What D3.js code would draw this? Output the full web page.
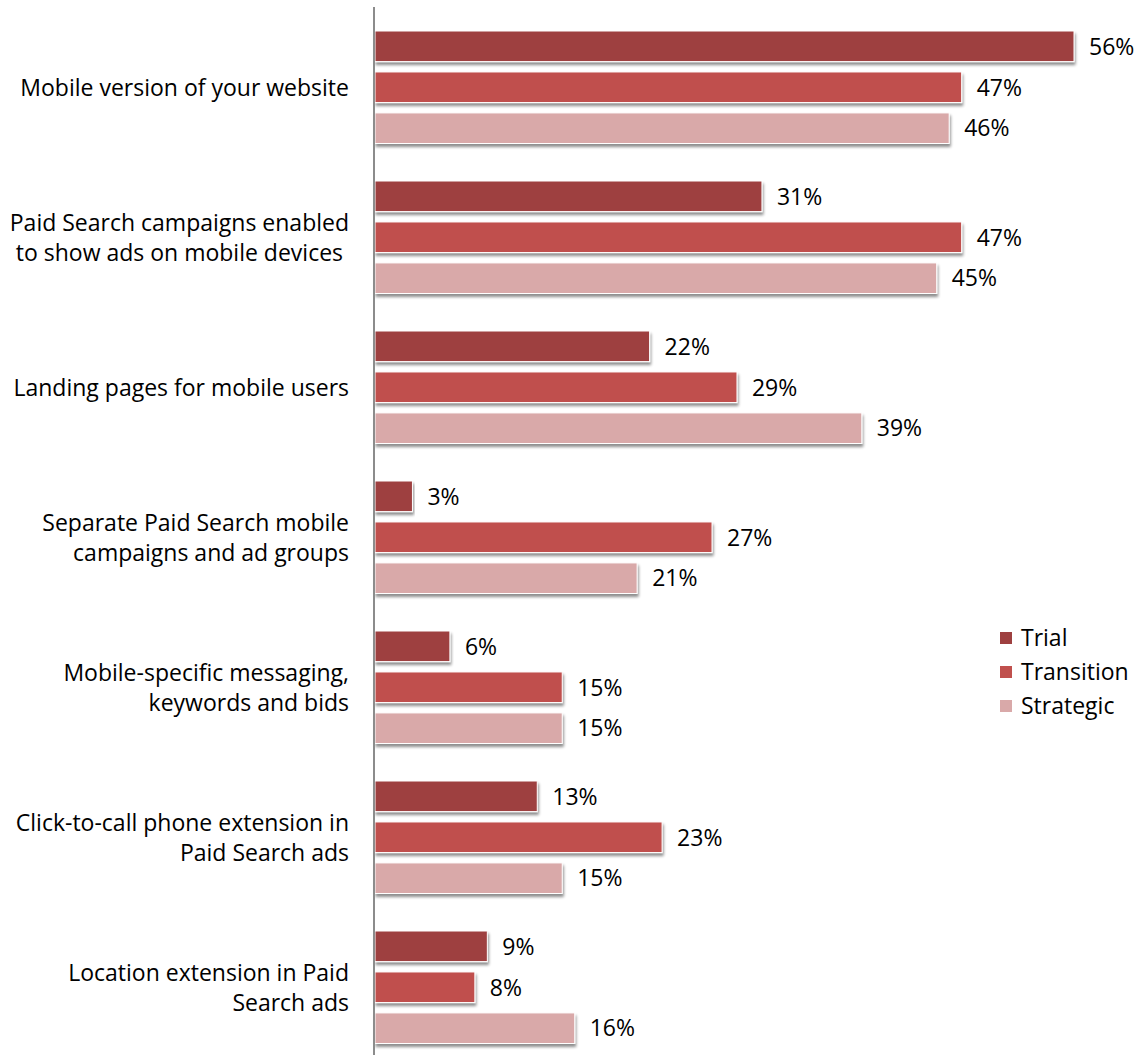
<!DOCTYPE html>
<html><head><meta charset="utf-8">
<script src="https://cdn.jsdelivr.net/npm/d3@7"></script>
<style>body{margin:0;background:#fff}svg{display:block}text{white-space:pre}</style>
</head><body>
<svg id="c" width="1138" height="1055"></svg>
<script>
const categories = [
  ["Mobile version of your website"],
  ["Paid Search campaigns enabled", "to show ads on mobile devices "],
  ["Landing pages for mobile users"],
  ["Separate Paid Search mobile", "campaigns and ad groups"],
  ["Mobile-specific messaging,", "keywords and bids"],
  ["Click-to-call phone extension in", "Paid Search ads"],
  ["Location extension in Paid", "Search ads"]
];
const series = ["Trial", "Transition", "Strategic"];
const trial = [56, 31, 22, 3, 6, 13, 9];
const transition = [47, 47, 29, 27, 15, 23, 8];
const strategic = [46, 45, 39, 21, 15, 15, 16];
const colors = ["#9e4040", "#c0504d", "#d9a9a9"];

const values = [trial, transition, strategic];
const svg = d3.select("#c");
const font = "'Open Sans', sans-serif";
const fs = 23;

const x = d3.scaleLinear().domain([0, 56]).range([375, 1074]);
const y0 = d3.scaleBand().domain(d3.range(categories.length)).range([6, 1056]);
const y1 = d3.scaleBand().domain(series).range([25, 137.5]).paddingInner(0.253).paddingOuter(0);

const defs = svg.append("defs");
const f = defs.append("filter").attr("id", "sh").attr("x", "-5%").attr("y", "-30%").attr("width", "110%").attr("height", "180%");
f.append("feGaussianBlur").attr("in", "SourceAlpha").attr("stdDeviation", 1.5).attr("result", "b");
f.append("feOffset").attr("in", "b").attr("dx", 1).attr("dy", 3).attr("result", "o");
f.append("feComponentTransfer").attr("in", "o").attr("result", "o2")
  .append("feFuncA").attr("type", "linear").attr("slope", 0.45);
const m = f.append("feMerge");
m.append("feMergeNode").attr("in", "o2");
m.append("feMergeNode").attr("in", "SourceGraphic");

const g = svg.append("g");
categories.forEach((cat, i) => {
  series.forEach((s, j) => {
    const v = values[j][i];
    const yy = y0(i) + y1(s);
    g.append("rect")
      .attr("x", x(0)).attr("y", yy)
      .attr("width", x(v) - x(0)).attr("height", y1.bandwidth())
      .attr("fill", colors[j]).attr("stroke", "#fff").attr("stroke-width", 1)
      .attr("filter", "url(#sh)");
    g.append("text")
      .attr("x", x(v) + 15).attr("y", yy + y1.bandwidth() / 2)
      .attr("dy", "0.36em")
      .attr("font-family", font).attr("font-size", fs).attr("fill", "#000")
      .text(v + "%");
  });
  const cy = y0(i) + y1("Transition") + y1.bandwidth() / 2;
  const lh = 30;
  const t = g.append("text")
    .attr("text-anchor", "end").attr("font-family", font).attr("font-size", fs).attr("fill", "#000");
  cat.forEach((line, k) => {
    t.append("tspan").attr("x", 349)
      .attr("y", cy + (k - (cat.length - 1) / 2) * lh)
      .attr("dy", "0.36em").text(line);
  });
});

// axis line
svg.append("line").attr("x1", 374).attr("x2", 374).attr("y1", 7).attr("y2", 1055)
  .attr("stroke", "#8c8c8c").attr("stroke-width", 2);

// legend
const lg = svg.append("g").attr("transform", "translate(1000,638)");
series.forEach((s, j) => {
  const r = lg.append("g").attr("transform", `translate(0,${j * 34})`);
  r.append("rect").attr("x", 0).attr("y", -6).attr("width", 12).attr("height", 12).attr("fill", colors[j]);
  r.append("text").attr("x", 21).attr("y", 0).attr("dy", "0.36em")
    .attr("font-family", font).attr("font-size", fs).attr("fill", "#000").text(s);
});
</script>
</body></html>
